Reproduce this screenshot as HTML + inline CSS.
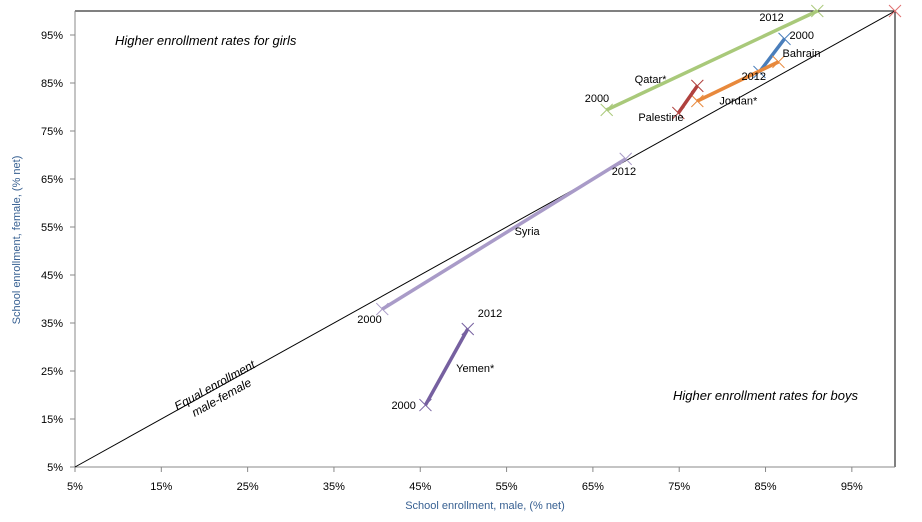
<!DOCTYPE html>
<html><head><meta charset="utf-8"><style>
body{margin:0;background:#fff;}
svg{display:block;font-family:"Liberation Sans",sans-serif;}
</style></head><body>
<svg id="c" width="922" height="522">
<line x1="75" y1="11" x2="895" y2="11" stroke="#000"/>
<line x1="895" y1="11" x2="895" y2="467" stroke="#000"/>
<line x1="75" y1="11" x2="75" y2="467" stroke="#888"/>
<line x1="75" y1="467" x2="895" y2="467" stroke="#888"/>
<g id="ticks"></g>
<g id="series"></g>
<text x="20" y="240" transform="rotate(-90 20 240)" text-anchor="middle" font-size="11" fill="#376092">School enrollment, female, (% net)</text>
<text x="485" y="509" text-anchor="middle" font-size="11" fill="#376092">School enrollment, male, (% net)</text>
<text x="115" y="45" font-size="13" font-style="italic">Higher enrollment rates for girls</text>
<text x="673" y="400" font-size="13" font-style="italic">Higher enrollment rates for boys</text>
<g transform="rotate(-29 215 392)">
<text x="218" y="390" text-anchor="middle" font-size="12" font-style="italic">Equal enrollment</text>
<text x="218" y="404" text-anchor="middle" font-size="12" font-style="italic">male-female</text>
</g>
</svg>
<script>
const xTicks=[5,15,25,35,45,55,65,75,85,95];
const yTicks=[5,15,25,35,45,55,65,75,85,95];
const names=["Qatar","Bahrain","Jordan","Palestine","Syria","Yemen"];
const colors=["#a9c97a","#4a7ebb","#e8893c","#b0413e","#a99bc8","#7660a0"];
const male2000=[66.6,87.2,86.5,74.9,40.6,45.6];
const female2000=[79.4,94.2,89.4,78.75,37.9,17.9];
const male2012=[91,84.3,77.1,77.1,68.8,50.5];
const female2012=[100,87.3,81.25,84.4,69.2,33.75];
const labels=[
 {t:"2000",x:66.6,y:79.4,dx:-22,dy:-8},{t:"2012",x:91,y:100,dx:-58,dy:10},{t:"Qatar*",x:71,y:85,dx:-10,dy:0},
 {t:"2000",x:87.2,y:94.2,dx:5,dy:0},{t:"Bahrain",x:87.2,y:94.2,dx:-2,dy:18},{t:"2012",x:84.3,y:87.3,dx:-18,dy:8},
 {t:"Jordan*",x:80,y:83,dx:-3,dy:12},{t:"Palestine",x:74.9,y:78.75,dx:-40,dy:8},
 {t:"2012",x:68.8,y:69.2,dx:-14,dy:16},{t:"Syria",x:55,y:55,dx:8,dy:8},{t:"2000",x:40.6,y:37.9,dx:-25,dy:14},
 {t:"2012",x:50.5,y:33.75,dx:10,dy:-12},{t:"Yemen*",x:48,y:26,dx:10,dy:6},{t:"2000",x:45.6,y:17.9,dx:-34,dy:4}
];
const X=v=>75+(v-5)*820/95, Y=v=>467-(v-5)*456/95;
const NS="http://www.w3.org/2000/svg";
const tg=document.getElementById('ticks'),sg=document.getElementById('series');
function mk(tag,attrs,parent){const e=document.createElementNS(NS,tag);for(const k in attrs)e.setAttribute(k,attrs[k]);parent.appendChild(e);return e;}
xTicks.forEach(v=>{const t=mk('text',{x:X(v),y:490,'text-anchor':'middle','font-size':11},tg);t.textContent=v+'%';


const m=mk('line',{x1:X(v),y1:467,x2:X(v),y2:472,stroke:'#888'},tg);

});
yTicks.forEach(v=>{const t=mk('text',{x:63,y:Y(v)+4,'text-anchor':'end','font-size':11},tg);t.textContent=v+'%';


const m=mk('line',{x1:70,y1:Y(v),x2:75,y2:Y(v),stroke:'#888'},tg);

});
const d=mk('line',{x1:X(5),y1:Y(5),x2:X(100),y2:Y(100),stroke:'#000','stroke-width':1},sg);


function cross(x,y,c){const g=mk('g',{stroke:c,'stroke-width':1},sg);
mk('line',{x1:x-6,y1:y-6,x2:x+6,y2:y+6},g);mk('line',{x1:x-6,y1:y+6,x2:x+6,y2:y-6},g);

}
names.forEach((n,i)=>{
 const l=mk('line',{x1:X(male2000[i]),y1:Y(female2000[i]),x2:X(male2012[i]),y2:Y(female2012[i]),stroke:colors[i],'stroke-width':3.5},sg);
 
 
 cross(X(male2000[i]),Y(female2000[i]),colors[i]);cross(X(male2012[i]),Y(female2012[i]),colors[i]);
});
cross(X(100),Y(100),'#e07070');
labels.forEach(o=>{const t=mk('text',{x:X(o.x)+o.dx,y:Y(o.y)+o.dy,'font-size':11},sg);t.textContent=o.t;

});
</script>
</body></html>
